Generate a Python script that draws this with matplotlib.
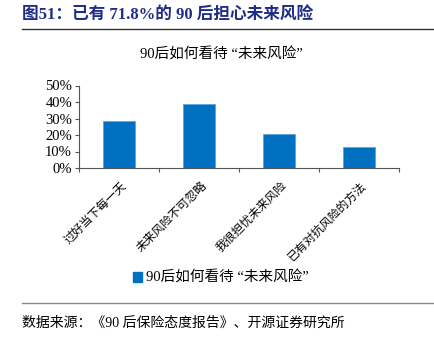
import matplotlib
matplotlib.use("Agg")
import matplotlib.pyplot as plt
import numpy as np
from matplotlib.lines import Line2D
from matplotlib.patches import Patch

plt.rcParams["font.family"] = ["Liberation Serif", "Noto Sans CJK SC", "DejaVu Sans"]

categories = ["过好当下每一天", "未来风险不可忽略", "我很担忧未来风险", "已有对抗风险的方法"]
values = [28.3, 38.6, 20.8, 12.6]
yticks = [0, 10, 20, 30, 40, 50]
series_name = "90后如何看待 “未来风险”"

bar_color = "#0070C0"
title_color = "#1F2D86"

fig = plt.figure(figsize=(4.34, 3.38), dpi=100)

# header
fig.text(22 / 434, 1 - 16 / 338, "图51：已有 71.8%的 90 后担心未来风险",
         fontsize=12, fontweight="bold", color=title_color, va="center", ha="left")
fig.add_artist(Line2D([22 / 434, 1.0], [1 - 29 / 338] * 2, color="#333333", lw=1.0))

# chart title
fig.text(0.51, 1 - 55 / 338, series_name, fontsize=10.5, ha="center", va="center")

ax = fig.add_axes([79 / 434, 1 - 168 / 338, 320 / 434, 82.5 / 338])
x = np.arange(len(categories))
ax.bar(x, values, width=0.4, color=bar_color, edgecolor="#5BA3E0", linewidth=0.6, label=series_name)
ax.set_xlim(-0.5, len(categories) - 0.5)
ax.set_ylim(0, 50)
ax.set_yticks(yticks)
ax.set_yticklabels([f"{v}%" for v in yticks], fontsize=10.5)
for s in ["top", "right"]:
    ax.spines[s].set_visible(False)
ax.spines["left"].set_color("#555555")
ax.spines["bottom"].set_color("#555555")
ax.tick_params(axis="y", length=3, color="#555555", pad=2)
ax.set_xticks(np.arange(len(categories) + 1) - 0.5)
ax.set_xticklabels([])
ax.tick_params(axis="x", length=3, color="#555555")
for i, c in enumerate(categories):
    ax.text(i + 0.02, -7, c, rotation=45, ha="right", va="top", fontsize=8.5,
            rotation_mode="anchor", transform=ax.transData)

fig.legend(handles=[Patch(color=bar_color)], labels=[series_name], loc="center",
           bbox_to_anchor=(0.51, 1 - 278 / 338), frameon=False, fontsize=10.5,
           handlelength=0.6, handleheight=0.6, handletextpad=0.3)

# footer
fig.add_artist(Line2D([22 / 434, 1.0], [1 - 303 / 338] * 2, color="#888888", lw=1.0))
fig.text(22 / 434, 1 - 323 / 338, "数据来源：《90 后保险态度报告》、开源证券研究所",
         fontsize=10, ha="left", va="center")

fig.savefig("out.png", dpi=100)
